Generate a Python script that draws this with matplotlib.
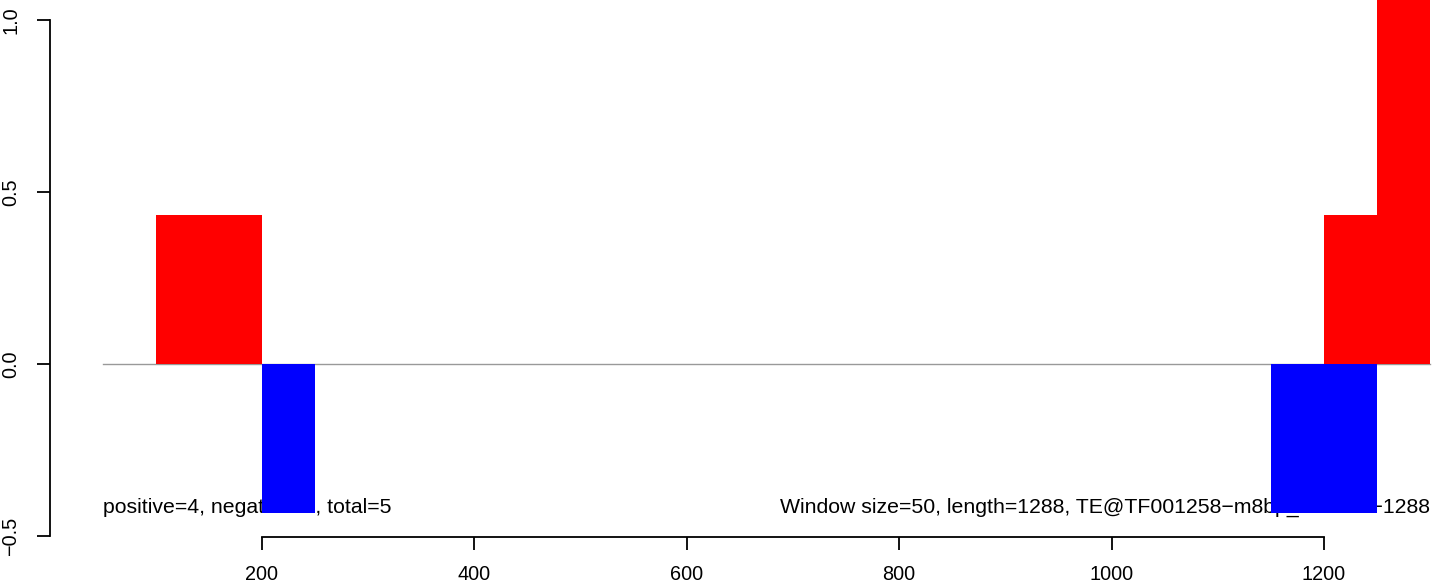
import matplotlib.pyplot as plt
import numpy as np

plt.rcParams['font.family'] = ['Liberation Sans', 'DejaVu Sans']

# window bars (start, end, score)
bar_start = [100, 200, 1150, 1200, 1250]
bar_end = [200, 250, 1250, 1250, 1300]
bar_value = [0.433, -0.433, -0.433, 0.433, 1.3]

x_ticks = [200, 400, 600, 800, 1000, 1200]
y_ticks = [-0.5, 0.0, 0.5, 1.0]

left_text = "positive=4, negative=1, total=5"
right_text = "Window size=50, length=1288, TE@TF001258\u2212m8bp_Ele15:1\u22121288"

fig = plt.figure(figsize=(14.44, 5.85), dpi=100)
ax = fig.add_axes([50 / 1444, 48 / 585, 1394 / 1444, 537 / 585])

ax.set_xlim(0.4, 1313)
ax.set_ylim(-0.503, 1.058)

# zero line
ax.plot([50, 1300], [0, 0], color='#999999', lw=1, zorder=1)

ax.text(50, -0.433, left_text, ha='left', va='baseline', fontsize=15.3, zorder=2)
ax.text(1300, -0.433, right_text, ha='right', va='baseline', fontsize=15.3, zorder=2)

for s, e, v in zip(bar_start, bar_end, bar_value):
    col = 'red' if v > 0 else 'blue'
    ax.bar(s, v, width=e - s, align='edge', color=col, linewidth=0, zorder=3)

for side in ['top', 'right']:
    ax.spines[side].set_visible(False)
ax.spines['left'].set_bounds(-0.5, 1.0)
ax.spines['bottom'].set_bounds(200, 1200)
ax.spines['left'].set_linewidth(1.3)
ax.spines['bottom'].set_linewidth(1.3)

ax.set_xticks(x_ticks)
ax.set_xticklabels([str(t) for t in x_ticks])
ax.set_yticks(y_ticks)
ax.set_yticklabels(['\u22120.5', '0.0', '0.5', '1.0'], rotation=90, va='center')
ax.tick_params(axis='both', length=9.5, width=1.3, labelsize=14.3)
ax.tick_params(axis='x', pad=10.5)
ax.tick_params(axis='y', pad=12)

fig.savefig('out.png', dpi=100)
